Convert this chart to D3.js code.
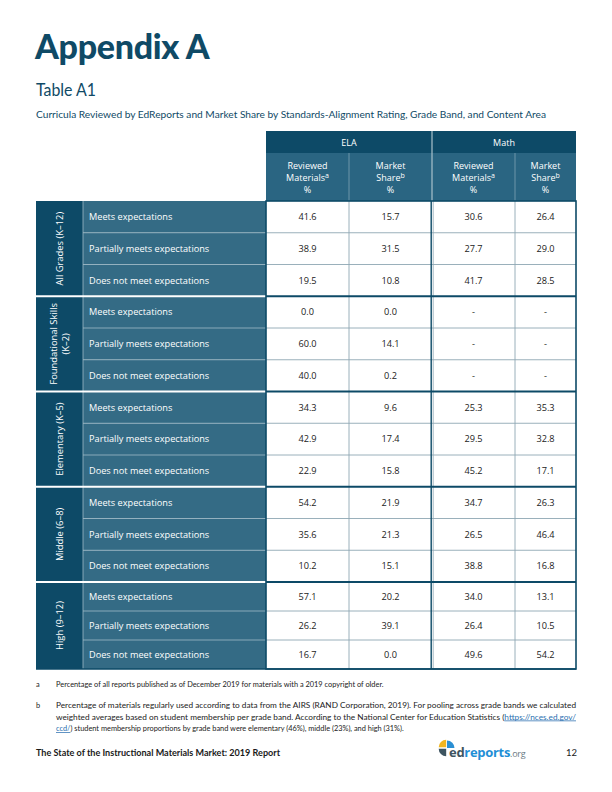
<!DOCTYPE html>
<html><head><meta charset="utf-8">
<script src="https://cdn.jsdelivr.net/npm/d3@7/dist/d3.min.js"></script>
<style>body{margin:0;background:#fff}svg{display:block}</style>
</head><body>
<svg id="c" width="612" height="792"></svg>
<script>
// ---------- data ----------
const groups = [["All Grades (K–12)"], ["Foundational Skills", "(K–2)"], ["Elementary (K–5)"], ["Middle (6–8)"], ["High (9–12)"]];
const ratings = ["Meets expectations", "Partially meets expectations", "Does not meet expectations"];
const subjects = ["ELA", "Math"];
const measures = [["Reviewed", "Materials", "a"], ["Market", "Share", "b"]];
const elaReviewed  = [41.6, 38.9, 19.5, 0.0, 60.0, 40.0, 34.3, 42.9, 22.9, 54.2, 35.6, 10.2, 57.1, 26.2, 16.7];
const elaMarket    = [15.7, 31.5, 10.8, 0.0, 14.1, 0.2, 9.6, 17.4, 15.8, 21.9, 21.3, 15.1, 20.2, 39.1, 0.0];
const mathReviewed = [30.6, 27.7, 41.7, null, null, null, 25.3, 29.5, 45.2, 34.7, 26.5, 38.8, 34.0, 26.4, 49.6];
const mathMarket   = [26.4, 29.0, 28.5, null, null, null, 35.3, 32.8, 17.1, 26.3, 46.4, 16.8, 13.1, 10.5, 54.2];
const footnoteA = ["Percentage of all reports published as of December 2019 for materials with a 2019 copyright of older."];
const footnoteB = ["Percentage of materials regularly used according to data from the AIRS (RAND Corporation, 2019). For pooling across grade bands we calculated",
  "weighted averages based on student membership per grade band. According to the National Center for Education Statistics (https://nces.ed.gov/",
  "ccd/) student membership proportions by grade band were elementary (46%), middle (23%), and high (31%)."];

const columns = [elaReviewed, elaMarket, mathReviewed, mathMarket];
const nRows = groups.length * ratings.length;

// ---------- styles ----------
const navy = "#0d4a67", subBg = "#2a6582", labelBg = "#346b85", gridGray = "#8ea7b3";
const bodyFont = "'Open Sans', 'Noto Sans', sans-serif";
const headFont = "Lato, 'Open Sans', sans-serif";

const svg = d3.select("#c");

// ---------- scales ----------
const colX = d3.scaleLinear().domain([0, 1, 2, 3, 4]).range([266, 349, 432, 515, 576]);
const rowY = d3.scaleLinear().domain([0, 12, 15]).range([201, 582, 669]);
const gx0 = 36, gx1 = 83, lx1 = 266;
const headTop = 131, headMid = 153, headBot = 201;

// ---------- titles ----------
svg.append("text").attr("x", 35).attr("y", 59).attr("font-family", headFont).attr("font-weight", 900)
  .attr("font-size", 34).attr("fill", "#0f4a66").attr("letter-spacing", -0.3).text("Appendix A");
svg.append("text").attr("x", 36).attr("y", 96).attr("font-family", headFont).attr("font-size", 17)
  .attr("fill", "#0f4a66").attr("textLength", 60).attr("lengthAdjust", "spacingAndGlyphs").text("Table A1");
svg.append("text").attr("x", 36).attr("y", 118).attr("font-family", headFont).attr("font-size", 9.6)
  .attr("fill", "#0f4a66").attr("textLength", 510).attr("lengthAdjust", "spacingAndGlyphs")
  .text("Curricula Reviewed by EdReports and Market Share by Standards-Alignment Rating, Grade Band, and Content Area");

// ---------- header ----------
svg.append("rect").attr("x", colX(0)).attr("y", headTop).attr("width", colX(4) - colX(0)).attr("height", headMid - headTop).attr("fill", navy);
svg.append("rect").attr("x", colX(0)).attr("y", headMid).attr("width", colX(4) - colX(0)).attr("height", headBot - headMid).attr("fill", subBg);

subjects.forEach((s, i) => {
  svg.append("text").attr("x", (colX(2 * i) + colX(2 * i + 2)) / 2).attr("y", headMid - 7.5)
    .attr("text-anchor", "middle").attr("font-family", bodyFont).attr("font-size", 9).attr("fill", "#fff").text(s);
});
// header separators
[1, 3].forEach(c => svg.append("line").attr("x1", colX(c)).attr("x2", colX(c)).attr("y1", headMid).attr("y2", headBot)
  .attr("stroke", "#7fa2b4").attr("stroke-width", 0.8));
svg.append("line").attr("x1", colX(2)).attr("x2", colX(2)).attr("y1", headTop).attr("y2", headBot)
  .attr("stroke", "#a9c1cc").attr("stroke-width", 1.2);

d3.range(4).forEach(c => {
  const m = measures[c % 2];
  const cx = (colX(c) + colX(c + 1)) / 2;
  const t = svg.append("text").attr("text-anchor", "middle").attr("font-family", bodyFont).attr("font-size", 9).attr("fill", "#fff");
  t.append("tspan").attr("x", cx).attr("y", 169).text(m[0]);
  const l2 = t.append("tspan").attr("x", cx).attr("y", 181);
  l2.append("tspan").text(m[1]);
  l2.append("tspan").attr("font-size", 7).attr("dy", -3).text(m[2]);
  t.append("tspan").attr("x", cx).attr("y", 193).text("%");
});

// ---------- body ----------
const rows = d3.range(nRows).map(r => ({ r, g: Math.floor(r / 3), k: r % 3 }));

// group column
groups.forEach((g, i) => {
  const y0 = rowY(i * 3), y1 = rowY(i * 3 + 3);
  svg.append("rect").attr("x", gx0).attr("y", y0).attr("width", gx1 - gx0).attr("height", y1 - y0).attr("fill", navy);
  const cx = (gx0 + gx1) / 2, cy = (y0 + y1) / 2;
  const t = svg.append("text").attr("transform", `translate(${cx},${cy}) rotate(-90)`).attr("text-anchor", "middle")
    .attr("font-family", bodyFont).attr("font-size", 9.4).attr("fill", "#fff");
  const n = g.length;
  g.forEach((line, j) => {
    t.append("tspan").attr("x", 0).attr("y", (j - (n - 1) / 2) * 11.5 + 3.3).text(line);
  });
});

// label column
svg.selectAll("rect.lab").data(rows).join("rect").attr("class", "lab")
  .attr("x", gx1).attr("y", d => rowY(d.r)).attr("width", lx1 - gx1).attr("height", d => rowY(d.r + 1) - rowY(d.r))
  .attr("fill", labelBg);
svg.selectAll("text.lab").data(rows).join("text").attr("class", "lab")
  .attr("x", gx1 + 6).attr("y", d => (rowY(d.r) + rowY(d.r + 1)) / 2 + 3.3)
  .attr("font-family", bodyFont).attr("font-size", 9.2).attr("fill", "#fff").text(d => ratings[d.k]);
// label row separators
svg.selectAll("line.labsep").data(rows.filter(d => d.k > 0)).join("line").attr("class", "labsep")
  .attr("x1", gx1).attr("x2", lx1).attr("y1", d => rowY(d.r)).attr("y2", d => rowY(d.r))
  .attr("stroke", "#9fbac7").attr("stroke-width", 0.8);
svg.append("line").attr("x1", gx1).attr("x2", gx1).attr("y1", rowY(0)).attr("y2", rowY(nRows))
  .attr("stroke", "#9fbac7").attr("stroke-width", 0.8);

// value cells
svg.append("rect").attr("x", colX(0)).attr("y", rowY(0)).attr("width", colX(4) - colX(0)).attr("height", rowY(nRows) - rowY(0)).attr("fill", "#fff");
svg.selectAll("line.rsep").data(rows.filter(d => d.k > 0)).join("line").attr("class", "rsep")
  .attr("x1", colX(0)).attr("x2", colX(4)).attr("y1", d => rowY(d.r)).attr("y2", d => rowY(d.r))
  .attr("stroke", gridGray).attr("stroke-width", 0.9);
[1, 3].forEach(c => svg.append("line").attr("x1", colX(c)).attr("x2", colX(c)).attr("y1", rowY(0)).attr("y2", rowY(nRows))
  .attr("stroke", gridGray).attr("stroke-width", 0.9));
// double separator between subjects
svg.append("line").attr("x1", colX(2) - 0.8).attr("x2", colX(2) - 0.8).attr("y1", rowY(0)).attr("y2", rowY(nRows))
  .attr("stroke", navy).attr("stroke-width", 1.4);
svg.append("line").attr("x1", colX(2) + 1.2).attr("x2", colX(2) + 1.2).attr("y1", rowY(0)).attr("y2", rowY(nRows))
  .attr("stroke", gridGray).attr("stroke-width", 0.8);

// group separators
d3.range(1, groups.length).forEach(i => {
  const y = rowY(i * 3);
  svg.append("line").attr("x1", colX(0)).attr("x2", colX(4)).attr("y1", y).attr("y2", y).attr("stroke", navy).attr("stroke-width", 2);
  svg.append("line").attr("x1", gx0).attr("x2", lx1).attr("y1", y).attr("y2", y).attr("stroke", "#fff").attr("stroke-width", 2);
});
// outer border of values
svg.append("rect").attr("x", colX(0)).attr("y", rowY(0)).attr("width", colX(4) - colX(0)).attr("height", rowY(nRows) - rowY(0))
  .attr("fill", "none").attr("stroke", navy).attr("stroke-width", 1.6);
svg.append("line").attr("x1", gx0).attr("x2", colX(4)).attr("y1", rowY(nRows)).attr("y2", rowY(nRows)).attr("stroke", navy).attr("stroke-width", 1.6);

// values
columns.forEach((col, c) => {
  svg.selectAll(`text.v${c}`).data(col).join("text").attr("class", `v${c}`)
    .attr("x", (colX(c) + colX(c + 1)) / 2).attr("y", (d, r) => (rowY(r) + rowY(r + 1)) / 2 + 3.3)
    .attr("text-anchor", "middle").attr("font-family", bodyFont).attr("font-size", 9.2).attr("fill", "#222")
    .text(d => d == null ? "-" : d3.format(".1f")(d));
});

// ---------- footnotes ----------
const fnFont = "Lato, 'Open Sans', sans-serif";
svg.append("text").attr("x", 36).attr("y", 687).attr("font-family", fnFont).attr("font-size", 7.4).attr("fill", "#222").text("a");
svg.append("text").attr("x", 56).attr("y", 687).attr("font-family", fnFont).attr("font-size", 7.4).attr("fill", "#222").text(footnoteA[0]);
svg.append("text").attr("x", 36).attr("y", 708).attr("font-family", fnFont).attr("font-size", 7.4).attr("fill", "#222").text("b");
footnoteB.forEach((line, i) => {
  const t = svg.append("text").attr("x", 56).attr("y", 708 + i * 11.5).attr("font-family", fnFont).attr("font-size", 7.4).attr("fill", "#222");
  if (i < 2) t.attr("textLength", 520).attr("lengthAdjust", "spacingAndGlyphs");
  const url1 = "https://nces.ed.gov/", url2 = "ccd/";
  if (line.includes(url1)) {
    const [pre] = line.split(url1);
    t.append("tspan").text(pre.slice(0, -1) + "(");
    t.append("tspan").attr("fill", "#2a6fb0").attr("text-decoration", "underline").text(url1);
  } else if (line.startsWith(url2)) {
    t.append("tspan").attr("fill", "#2a6fb0").attr("text-decoration", "underline").text(url2);
    t.append("tspan").text(line.slice(url2.length));
  } else t.text(line);
});

// ---------- footer ----------
svg.append("text").attr("x", 36).attr("y", 756).attr("font-family", headFont).attr("font-weight", 700).attr("font-size", 9.2)
  .attr("fill", "#1a1a1a").attr("textLength", 244).attr("lengthAdjust", "spacingAndGlyphs")
  .text("The State of the Instructional Materials Market: 2019 Report");
svg.append("text").attr("x", 577).attr("y", 756).attr("text-anchor", "end").attr("font-family", headFont).attr("font-size", 9.5)
  .attr("fill", "#1a1a1a").text("12");
// logo
const logo = svg.append("g").attr("transform", "translate(447,748)");
const arc = d3.arc().innerRadius(0).outerRadius(7.5);
logo.append("path").attr("d", arc({ startAngle: 0, endAngle: Math.PI / 2 })).attr("fill", "#2b8fd3");
logo.append("path").attr("d", arc({ startAngle: -Math.PI / 2, endAngle: 0 })).attr("fill", "#f2b51f").attr("transform", "translate(-0.8,-0.8)");
logo.append("path").attr("d", arc({ startAngle: Math.PI, endAngle: 1.5 * Math.PI })).attr("fill", "#3d5460").attr("transform", "translate(-0.8,0.8)");
const lt = svg.append("text").attr("x", 449).attr("y", 757).attr("font-family", "'Open Sans', sans-serif").attr("font-size", 13).attr("font-weight", 700).attr("letter-spacing", -0.3);
lt.append("tspan").attr("fill", "#3d5460").text("ed");
lt.append("tspan").attr("fill", "#1f8fd6").text("reports");
lt.append("tspan").attr("fill", "#6a7a84").attr("font-weight", 400).attr("font-size", 9).text(".org");
</script>
</body></html>
